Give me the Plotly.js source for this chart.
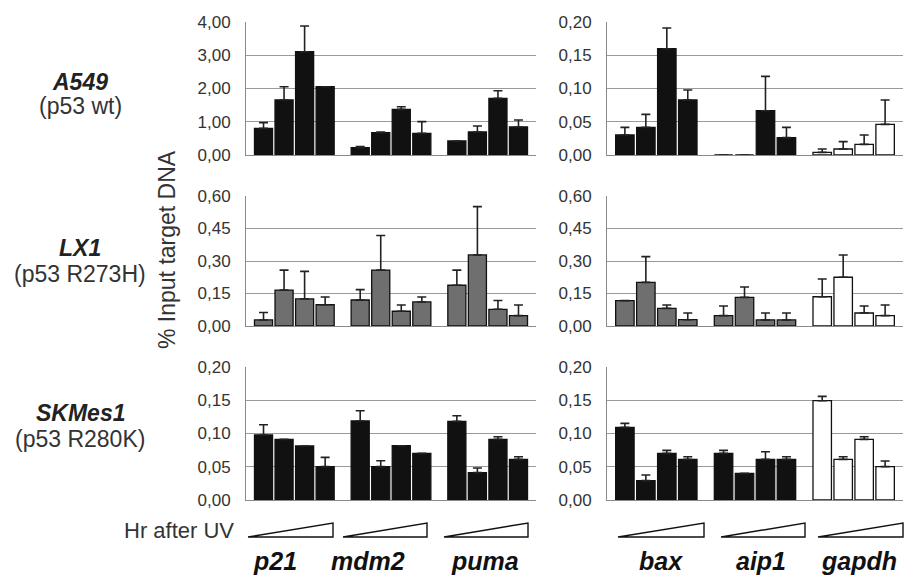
<!DOCTYPE html>
<html>
<head>
<meta charset="utf-8">
<script src="https://cdn.plot.ly/plotly-3.0.1.min.js"></script>
<style>html,body{margin:0;padding:0;background:#fff;}#chart{width:909px;height:580px;}</style>
</head>
<body>
<div id="chart"></div>
<script>
// ---- data ----
const genesLeft = ['p21', 'mdm2', 'puma'];
const genesRight = ['bax', 'aip1', 'gapdh'];
const cellLines = ['A549', 'LX1', 'SKMes1'];
const mutations = ['(p53 wt)', '(p53 R273H)', '(p53 R280K)'];
const timeLabels = ['t1', 't2', 't3', 't4'];

// values per gene: 4 time points after UV
const a549Left = [[0.80, 1.65, 3.10, 2.05], [0.22, 0.67, 1.37, 0.65], [0.42, 0.69, 1.70, 0.84]];
const a549LeftErr = [[0.17, 0.40, 0.77, null], [0.03, 0.02, 0.08, 0.35], [null, 0.18, 0.23, 0.21]];
const a549Right = [[0.030, 0.0415, 0.1595, 0.0825], [0, 0, 0.0665, 0.026], [0.004, 0.009, 0.016, 0.046]];
const a549RightErr = [[0.0115, 0.0195, 0.031, 0.015], [null, null, 0.0515, 0.0155], [0.005, 0.011, 0.014, 0.0365]];

const lx1Left = [[0.028, 0.166, 0.125, 0.098], [0.12, 0.258, 0.068, 0.111], [0.188, 0.328, 0.077, 0.048]];
const lx1LeftErr = [[0.034, 0.092, 0.127, 0.036], [0.048, 0.16, 0.029, 0.023], [0.07, 0.223, 0.041, 0.049]];
const lx1Right = [[0.117, 0.2015, 0.0815, 0.029], [0.048, 0.132, 0.028, 0.028], [0.135, 0.225, 0.06, 0.048]];
const lx1RightErr = [[null, 0.1185, 0.0155, 0.031], [0.044, 0.048, 0.032, 0.032], [0.082, 0.103, 0.032, 0.049]];

const skLeft = [[0.0975, 0.091, 0.081, 0.05], [0.1185, 0.05, 0.0815, 0.07], [0.118, 0.041, 0.091, 0.061]];
const skLeftErr = [[0.0155, null, null, 0.014], [0.0155, 0.009, null, null], [0.0085, 0.007, 0.004, 0.004]];
const skRight = [[0.109, 0.029, 0.07, 0.061], [0.07, 0.04, 0.061, 0.061], [0.149, 0.061, 0.091, 0.05]];
const skRightErr = [[0.006, 0.0085, 0.0045, 0.004], [0.0045, null, 0.0115, 0.004], [0.0065, 0.004, 0.004, 0.0085]];

const yMax = [[4, 0.2], [0.6, 0.6], [0.2, 0.2]];
const yStep = [[1, 0.05], [0.15, 0.15], [0.05, 0.05]];

// ---- styles ----
const BLACK = '#111111', GREY = '#6f6f6f', WHITE = '#ffffff';
const fills = [
  [[BLACK, BLACK, BLACK], [BLACK, BLACK, WHITE]],
  [[GREY, GREY, GREY], [GREY, GREY, WHITE]],
  [[BLACK, BLACK, BLACK], [BLACK, BLACK, WHITE]]
];
const panels = [
  [[a549Left, a549LeftErr], [a549Right, a549RightErr]],
  [[lx1Left, lx1LeftErr], [lx1Right, lx1RightErr]],
  [[skLeft, skLeftErr], [skRight, skRightErr]]
];

const W = 909, H = 580;
const colPx = [[246, 536], [607, 903]];
const rowPx = [[21.7, 155], [196, 326], [366.7, 500]];
const px = x => x / W, py = y => 1 - y / H;

const traces = [];
const layout = {
  width: W, height: H,
  margin: {l: 0, r: 0, t: 0, b: 0},
  paper_bgcolor: '#fff', plot_bgcolor: '#fff',
  showlegend: false,
  barmode: 'group', bargap: 0.15, bargroupgap: 0.12,
  separators: ',.',
  font: {family: 'Liberation Sans, Arial, sans-serif', color: '#222'},
  annotations: [], shapes: []
};

for (let r = 0; r < 3; r++) {
  for (let c = 0; c < 2; c++) {
    const idx = r * 2 + c + 1;
    const sfx = idx === 1 ? '' : String(idx);
    const genes = c === 0 ? genesLeft : genesRight;
    const [vals, errs] = panels[r][c];
    for (let t = 0; t < 4; t++) {
      traces.push({
        type: 'bar',
        x: genes,
        y: vals.map(g => g[t]),
        name: timeLabels[t],
        xaxis: 'x' + sfx, yaxis: 'y' + sfx,
        marker: {color: fills[r][c], line: {color: '#111', width: 1.3}},
        error_y: {type: 'data', symmetric: false, array: errs.map(g => g[t]), arrayminus: [0, 0, 0],
                  color: '#222', thickness: 1.6, width: 4.5},
        hoverinfo: 'skip'
      });
    }
    layout['xaxis' + sfx] = {
      domain: [px(colPx[c][0]), px(colPx[c][1])],
      anchor: 'y' + sfx, type: 'category',
      showticklabels: false, showgrid: false, zeroline: false,
      showline: true, linecolor: '#8a8a8a', linewidth: 1, ticks: '', fixedrange: true
    };
    layout['yaxis' + sfx] = {
      domain: [py(rowPx[r][1]), py(rowPx[r][0])],
      anchor: 'x' + sfx,
      range: [0, yMax[r][c]], dtick: yStep[r][c], tick0: 0,
      tickformat: '.2f',
      showgrid: true, gridcolor: '#9a9a9a', gridwidth: 1,
      zeroline: true, zerolinecolor: '#8a8a8a',
      showline: true, linecolor: '#8a8a8a', linewidth: 1,
      ticks: '', ticklabelstandoff: 11,
      tickfont: {size: 17, color: '#333'}, fixedrange: true
    };
  }
}

// row labels
const rowLabelY = [[82, 106], [248, 274], [413, 439]];
for (let r = 0; r < 3; r++) {
  layout.annotations.push({xref: 'paper', yref: 'paper', x: px(80), y: py(rowLabelY[r][0]),
    text: '<b><i>' + cellLines[r] + '</i></b>', showarrow: false, xanchor: 'center', yanchor: 'middle',
    font: {size: 23, color: '#222'}});
  layout.annotations.push({xref: 'paper', yref: 'paper', x: px(80), y: py(rowLabelY[r][1]),
    text: mutations[r], showarrow: false, xanchor: 'center', yanchor: 'middle',
    font: {size: 23, color: '#333'}});
}
// y title
layout.annotations.push({xref: 'paper', yref: 'paper', x: px(167), y: py(250),
  text: '% Input target DNA', textangle: -90, showarrow: false, xanchor: 'center', yanchor: 'middle',
  font: {size: 23, color: '#333'}});
// Hr after UV
layout.annotations.push({xref: 'paper', yref: 'paper', x: px(236), y: py(530),
  text: 'Hr after UV', showarrow: false, xanchor: 'right', yanchor: 'middle',
  font: {size: 22, color: '#333'}});
// gene labels
const geneLabelX = [275, 368, 485, 661, 761, 859];
const allGenes = genesLeft.concat(genesRight);
allGenes.forEach((g, i) => {
  layout.annotations.push({xref: 'paper', yref: 'paper', x: px(geneLabelX[i]), y: py(561),
    text: '<b><i>' + g + '</i></b>', showarrow: false, xanchor: 'center', yanchor: 'middle',
    font: {size: 25, color: '#111'}});
});
// wedges (time ramp)
const wedgeX = [[248, 333], [343, 427], [444, 528], [618, 704], [721, 805], [818, 903]];
wedgeX.forEach(([a, b]) => {
  layout.shapes.push({type: 'path', xref: 'paper', yref: 'paper',
    path: `M ${px(a)} ${py(537)} L ${px(b)} ${py(523)} L ${px(b)} ${py(537)} Z`,
    line: {color: '#111', width: 1.4}, fillcolor: 'rgba(0,0,0,0)'});
});

Plotly.newPlot('chart', traces, layout, {staticPlot: true, displayModeBar: false});
</script>
</body>
</html>
